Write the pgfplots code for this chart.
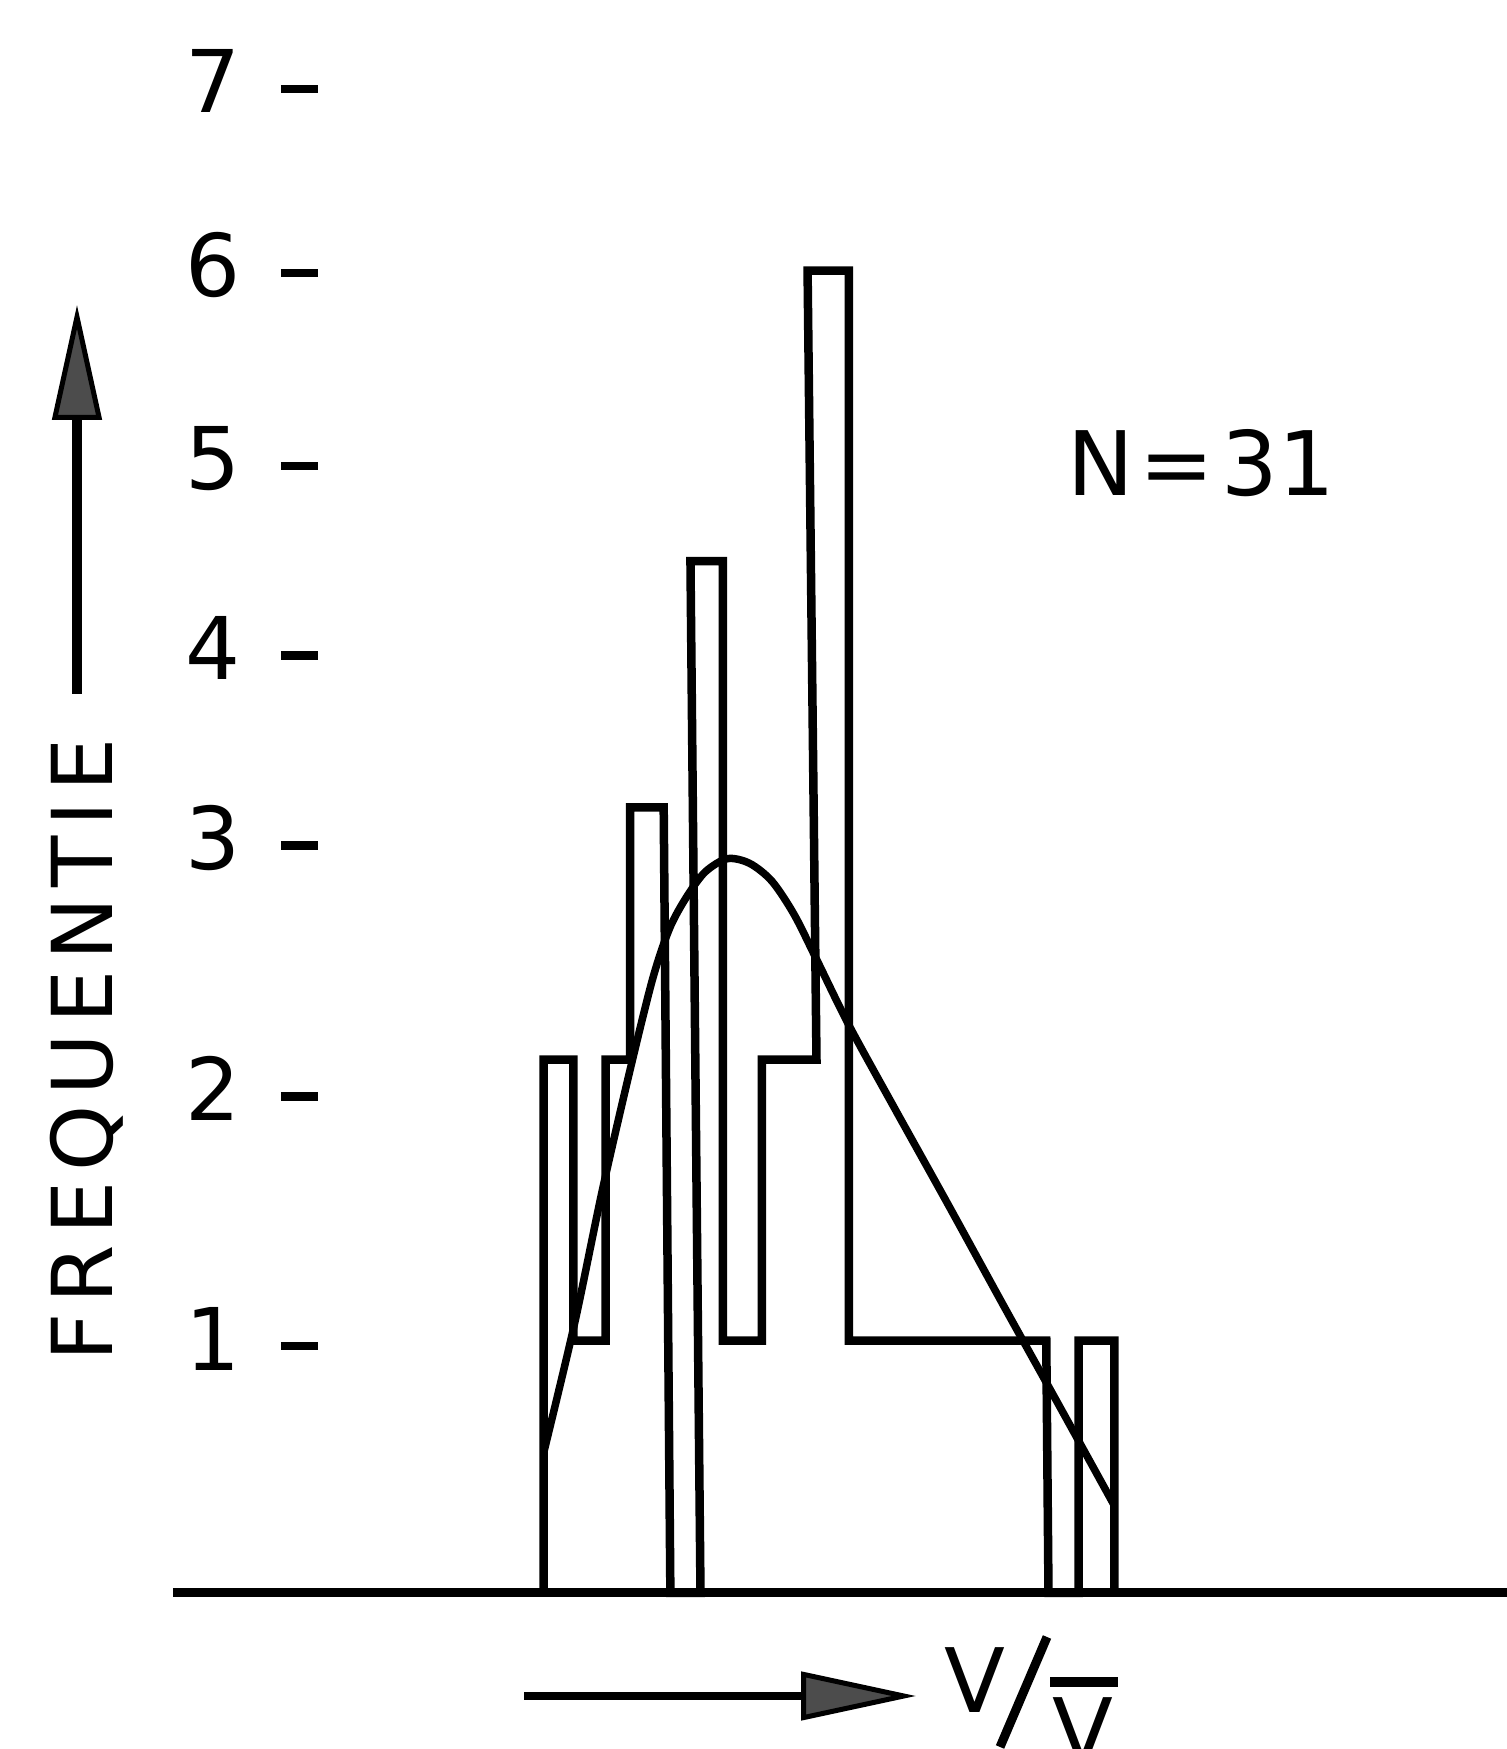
\documentclass[border=0pt]{standalone}
\usepackage{fontspec}
\setmainfont{DejaVu Sans}
\usepackage{pgfplots}
\usepackage{pgfplotstable}
\pgfplotsset{compat=1.18}
\usetikzlibrary{arrows.meta}

% histogram outline (x in arbitrary V/Vbar units, y = frequency as drawn)
\pgfplotstableread{
x y
4.874 0
4.874 2.424
5.14 2.424
5.14 1.146
5.43 1.146
5.43 2.424
5.65 2.424
5.65 3.57
5.95 3.57
6.01 0
6.28 0
6.19 4.69
6.48 4.69
6.48 1.146
6.83 1.146
6.83 2.424
7.32 2.424
7.24 6.01
7.61 6.01
7.61 1.146
9.38 1.146
9.40 0
9.67 0
9.67 1.146
9.99 1.146
9.99 0
}\histdata

% fitted distribution curve
\pgfplotstableread{
x y
4.88 0.649
5.15 1.222
5.40 1.830
5.65 2.380
5.85 2.789
6.00 3.017
6.15 3.159
6.32 3.276
6.52 3.337
6.72 3.316
6.92 3.235
7.12 3.083
7.32 2.880
7.61 2.581
8.00 2.221
8.50 1.765
9.00 1.303
9.50 0.847
9.98 0.406
}\curvedata

\begin{document}
\begin{tikzpicture}
\path[use as bounding box] (0,0) rectangle (301.4pt,349.8pt);
\begin{axis}[
  at={(34.58pt,31.23pt)}, anchor=south west,
  scale only axis, width=266.8pt, height=316.8pt,
  xmin=1.55, xmax=13.51, ymin=0, ymax=7.2,
  axis x line=bottom, axis y line=left,
  x axis line style={-, line width=1.8pt},
  y axis line style={draw=none},
  xtick=\empty,
  ytick={1.121,2.257,3.398,4.26,5.122,6.0,6.836},
  yticklabels={1,2,3,4,5,6,7},
  tick align=inside,
  major tick length=7.5pt,
  ytick style={xshift=21.6pt, line width=1.7pt, black},
  yticklabel style={font=\fontsize{17.3}{20}\selectfont, anchor=center, xshift=8.1pt, yshift=1.5pt},
  /pgf/number format/assume math mode=true,
  clip=false,
]
\addplot[black, line width=1.7pt] table {\histdata};
\addplot[black, line width=1.5pt, smooth, tension=0.5] table {\curvedata};
\node[anchor=base, font=\fontsize{17.8}{20}\selectfont] at (axis cs:10.77,4.99) {N\kern1pt=\kern1.5pt31};
\end{axis}
% y label with arrow
\node[rotate=90, inner sep=0, font=\fontsize{16.8}{20}\selectfont\addfontfeatures{LetterSpace=12}] at (17.3pt,139.8pt) {FREQUENTIE};
\draw[line width=1.9pt, -{Triangle[length=23pt, width=9.8pt, fill=black!70, line width=1pt]}] (15.4pt,211pt) -- (15.4pt,288.8pt);
% x label with arrow
\draw[line width=1.7pt, -{Triangle[length=23pt, width=9.6pt, fill=black!70, line width=1pt]}] (104.8pt,10.6pt) -- (183.2pt,10.6pt);
\node[anchor=base, inner sep=0, font=\fontsize{17.8}{20}\selectfont] at (195pt,7.4pt) {V};
\draw[line width=1.8pt] (200pt,0.4pt) -- (209.4pt,22.4pt);
\draw[line width=2pt] (210pt,13.4pt) -- (223.6pt,13.4pt);
\node[anchor=north, inner sep=0, font=\fontsize{17.8}{20}\selectfont] at (216.5pt,10.4pt) {V};
\end{tikzpicture}
\end{document}
